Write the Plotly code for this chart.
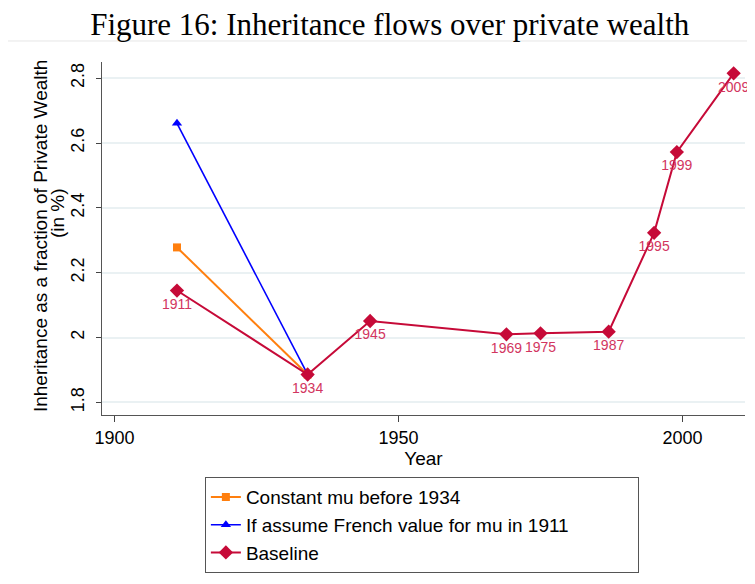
import plotly.graph_objects as go

# data
base_years = [1911, 1934, 1945, 1969, 1975, 1987, 1995, 1999, 2009]
base_vals = [2.145, 1.886, 2.051, 2.010, 2.013, 2.018, 2.323, 2.572, 2.815]
base_labels = [str(y) for y in base_years]

const_years = [1911, 1934]
const_vals = [2.278, 1.886]

french_years = [1911, 1934]
french_vals = [2.661, 1.886]

x_ticks = [1900, 1950, 2000]
y_ticks = [1.8, 2.0, 2.2, 2.4, 2.6, 2.8]
y_tick_text = ["1.8", "2", "2.2", "2.4", "2.6", "2.8"]

ORANGE = "#ff7f0e"
BLUE = "#0000ff"
CRIMSON = "#c60a38"
LABEL_RED = "#d23560"

# trailing no-break spaces widen the legend box like the original
PAD = "\u00a0" * 12

fig = go.Figure()

fig.add_trace(
    go.Scatter(
        x=const_years,
        y=const_vals,
        mode="lines+markers",
        name="Constant mu before 1934",
        line=dict(color=ORANGE, width=2),
        marker=dict(symbol="square", size=8, color=ORANGE),
    )
)
fig.add_trace(
    go.Scatter(
        x=french_years,
        y=french_vals,
        mode="lines+markers",
        name="If assume French value for mu in 1911" + PAD,
        line=dict(color=BLUE, width=1.6),
        marker=dict(symbol="triangle-up", size=9, color=BLUE),
    )
)
fig.add_trace(
    go.Scatter(
        x=base_years,
        y=base_vals,
        mode="lines+markers+text",
        name="Baseline",
        text=base_labels,
        textposition="bottom center",
        textfont=dict(color=LABEL_RED, size=14, family="Liberation Sans"),
        line=dict(color=CRIMSON, width=2),
        marker=dict(symbol="diamond", size=11, color=CRIMSON),
        cliponaxis=False,
    )
)

# the page body has an 8px default margin, so the figure is sized to what is visible
fig.update_layout(
    width=747,
    height=576,
    margin=dict(l=94, r=10, t=54, b=169),
    paper_bgcolor="white",
    plot_bgcolor="white",
    font=dict(family="Liberation Sans", size=18, color="black"),
    title=dict(
        text="Figure 16: Inheritance flows over private wealth",
        font=dict(family="Liberation Serif", size=31, color="black"),
        x=0.511,
        xanchor="center",
        yref="container",
        y=0.99,
        yanchor="top",
        pad=dict(t=0),
    ),
    showlegend=True,
    legend=dict(
        x=0.16,
        y=-0.176,
        xanchor="left",
        yanchor="top",
        bordercolor="#555555",
        borderwidth=1,
        bgcolor="white",
        font=dict(size=19),
    ),
    shapes=[
        dict(
            type="line",
            xref="paper",
            yref="paper",
            x0=-0.15,
            x1=1.02,
            y0=1.0595,
            y1=1.0595,
            line=dict(color="#e6e6e6", width=1),
        )
    ],
    annotations=[
        dict(
            text="Inheritance as a fraction of Private Wealth",
            xref="paper",
            yref="paper",
            x=-0.0964,
            y=0.507,
            xanchor="center",
            yanchor="middle",
            textangle=-90,
            showarrow=False,
            font=dict(size=19),
        ),
        dict(
            text="(in %)",
            xref="paper",
            yref="paper",
            x=-0.070,
            y=0.572,
            xanchor="center",
            yanchor="middle",
            textangle=-90,
            showarrow=False,
            font=dict(size=19),
        ),
    ],
)

fig.update_xaxes(
    range=[1897.8, 2011],
    tickvals=x_ticks,
    ticks="outside",
    ticklen=6,
    tickcolor="#444444",
    showline=True,
    linecolor="#555555",
    linewidth=1,
    showgrid=False,
    zeroline=False,
    automargin=False,
    tickfont=dict(size=18),
    title=dict(text="Year", font=dict(size=19), standoff=0),
)
fig.update_yaxes(
    range=[1.761, 2.85],
    tickvals=y_ticks,
    ticktext=y_tick_text,
    tickangle=-90,
    ticks="outside",
    ticklen=5,
    tickcolor="#444444",
    ticklabelstandoff=5,
    showline=True,
    linecolor="#555555",
    linewidth=1,
    showgrid=True,
    gridcolor="#eaf1f3",
    gridwidth=1.5,
    zeroline=False,
    automargin=False,
    tickfont=dict(size=18),
)

fig.write_html("out.html")
